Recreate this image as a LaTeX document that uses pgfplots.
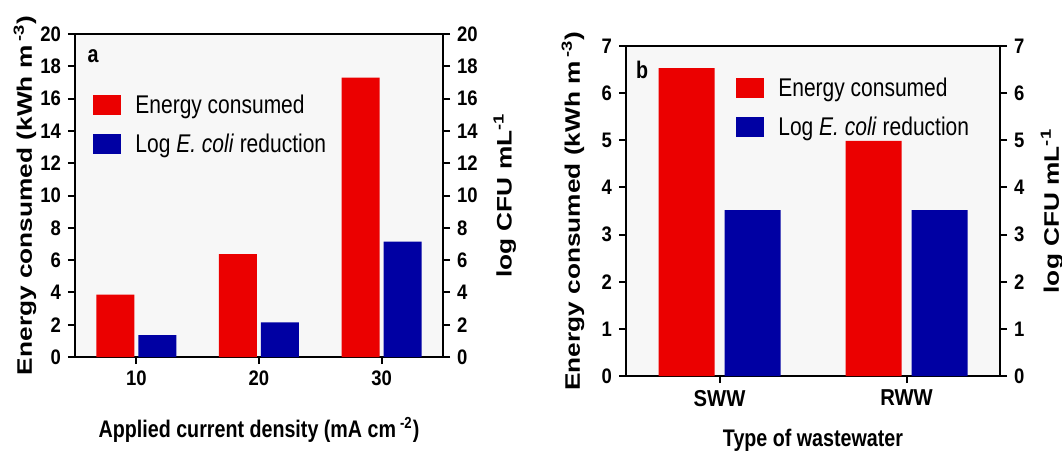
\documentclass[border=0pt]{standalone}
\usepackage{pgfplots}
\pgfplotsset{compat=1.18}
\usepackage{fontspec}
\setmainfont{Liberation Sans}
\newfontfamily\hfont[FakeStretch=0.82]{Liberation Sans}
\newfontfamily\tfont[FakeStretch=0.88]{Liberation Sans}
\newfontfamily\vfont[FakeStretch=1.25]{Liberation Sans}

\definecolor{barred}{RGB}{235,0,0}
\definecolor{barblue}{RGB}{0,0,163}

\pgfplotsset{
  sqleg/.style={legend image code/.code={\fill[##1] (0pt,-4.5pt) rectangle (14pt,5.5pt);}},
  panel/.style={
    scale only axis,
    anchor=south west,
    ymin=0,
    axis line style={line width=1pt},
    every tick/.style={black, line width=1pt},
    major tick length=3.5pt,
    tick align=outside,
    /pgf/number format/assume math mode=true,
    tick label style={font=\tfont\bfseries\fontsize{10.5}{12}\selectfont},
    ylabel style={font=\vfont\bfseries\fontsize{10.5}{12}\selectfont, anchor=center},
    xlabel style={font=\hfont\bfseries\fontsize{12}{14}\selectfont, anchor=center},
  },
  mainpanel/.style={
    panel,
    axis background/.style={fill=black!3},
    ybar,
    xtick=data,
    xtick pos=bottom,
    ytick pos=left,
    legend cell align=left,
    legend style={draw=none, fill=none, inner sep=0pt, row sep=7.5pt, column sep=7pt,
      font=\hfont\fontsize{12.8}{14}\selectfont,
      nodes={inner sep=0pt, text height=9.5pt, text depth=2.5pt}},
  },
  rightpanel/.style={
    panel,
    axis y line*=right,
    axis x line=none,
    xmin=0, xmax=1,
  },
}

\begin{document}
\begin{tikzpicture}
\useasboundingbox (0pt,0pt) rectangle (531pt,225.5pt);

% panel a
\begin{axis}[mainpanel,
  at={(37.5pt,47pt)}, width=184pt, height=161.5pt,
  xmin=-0.5, xmax=2.5, ymax=20, ytick={0,2,...,20},
  bar width=19pt, ybar=2pt,
  xticklabels={10,20,30},
  xlabel={Applied current density (mA cm\,\textsuperscript{-2})},
  xlabel style={at={(axis description cs:0.5,-0.226)}},
  ylabel={Energy consumed (kWh m\,\textsuperscript{-3})},
  ylabel style={at={(axis description cs:-0.136,0.5)}},
  legend style={at={(rel axis cs:0.049,0.814)}, anchor=north west},
]
\addplot[fill=barred, draw=none, sqleg] coordinates {(0,3.86) (1,6.37) (2,17.3)};
\addplot[fill=barblue, draw=none, sqleg] coordinates {(0,1.36) (1,2.14) (2,7.15)};
\legend{Energy consumed, Log \textit{E. coli} reduction}
\node[font=\hfont\bfseries\fontsize{12}{14}\selectfont] at (rel axis cs:0.049,0.93) {a};
\end{axis}
\begin{axis}[rightpanel,
  at={(37.5pt,47pt)}, width=184pt, height=161.5pt,
  ymax=20, ytick={0,2,...,20},
  ylabel={log CFU mL\textsuperscript{-1}},
  ylabel style={at={(axis description cs:1.168,0.5)}},
]
\end{axis}

% panel b
\begin{axis}[mainpanel,
  at={(313pt,37.5pt)}, width=187pt, height=165pt,
  xmin=-0.5, xmax=1.5, ymax=7, ytick={0,1,...,7},
  bar width=28pt, ybar=5pt,
  xticklabels={SWW,RWW},
  xticklabel style={font=\tfont\bfseries\fontsize{11.5}{13}\selectfont},
  xlabel={Type of wastewater},
  xlabel style={at={(axis description cs:0.5,-0.194)}},
  ylabel={Energy consumed (kWh m\,\textsuperscript{-3})},
  ylabel style={at={(axis description cs:-0.142,0.5)}},
  legend style={at={(rel axis cs:0.294,0.906)}, anchor=north west},
]
\addplot[fill=barred, draw=none, sqleg] coordinates {(0,6.53) (1,4.99)};
\addplot[fill=barblue, draw=none, sqleg] coordinates {(0,3.52) (1,3.52)};
\legend{Energy consumed, Log \textit{E. coli} reduction}
\node[font=\hfont\bfseries\fontsize{12}{14}\selectfont] at (rel axis cs:0.043,0.927) {b};
\end{axis}
\begin{axis}[rightpanel,
  at={(313pt,37.5pt)}, width=187pt, height=165pt,
  ymax=7, ytick={0,1,...,7},
  ylabel={log CFU mL\textsuperscript{-1}},
  ylabel style={at={(axis description cs:1.139,0.5)}},
]
\end{axis}
\end{tikzpicture}
\end{document}
